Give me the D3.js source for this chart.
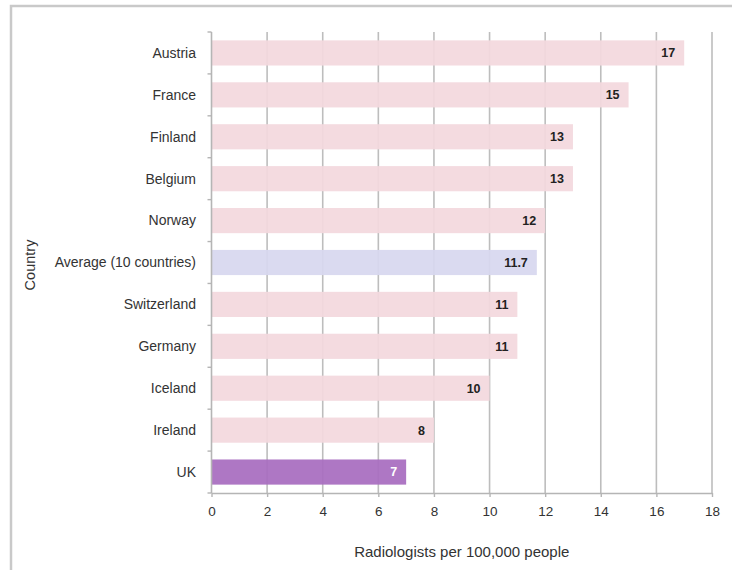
<!DOCTYPE html>
<html>
<head>
<meta charset="utf-8">
<script src="https://cdn.jsdelivr.net/npm/d3@7"></script>
<style>
  body { margin: 0; background: #fff; }
  text { font-family: "Liberation Sans", Arial, sans-serif; }
</style>
</head>
<body>
<div class="chart"></div>
<script>
const countries = ['Austria', 'France', 'Finland', 'Belgium', 'Norway', 'Average (10 countries)',
  'Switzerland', 'Germany', 'Iceland', 'Ireland', 'UK'];
const values = [17, 15, 13, 13, 12, 11.7, 11, 11, 10, 8, 7];
const xTicks = [0, 2, 4, 6, 8, 10, 12, 14, 16, 18];

const data = countries.map((c, i) => ({country: c, value: values[i]}));

const width = 732;
const height = 570;
const margin = {left: 211.5, right: 20, top: 32, bottom: 77};

const svg = d3.select('.chart').append('svg')
  .attr('width', width)
  .attr('height', height);

// outer frame
svg.append('rect')
  .attr('x', 11).attr('y', 6)
  .attr('width', 740).attr('height', 600)
  .attr('fill', 'none')
  .attr('stroke', '#c9c9c9')
  .attr('stroke-width', 2.5);

const x = d3.scaleLinear()
  .domain([0, 18])
  .range([margin.left, width - margin.right]);

const y = d3.scaleBand()
  .domain(countries)
  .range([margin.top, height - margin.bottom])
  .paddingInner(0.4)
  .paddingOuter(0.2);

// vertical grid lines
svg.selectAll('.grid')
  .data(xTicks.slice(1))
  .enter()
  .append('line')
  .attr('class', 'grid')
  .attr('x1', d => x(d)).attr('x2', d => x(d))
  .attr('y1', margin.top).attr('y2', height - margin.bottom)
  .attr('stroke', '#bdbdbd')
  .attr('stroke-width', 1.6);

const fillFor = d => d.country === 'UK' ? '#a86dc0'
  : d.country.startsWith('Average') ? '#d7d7ef' : '#f3d8de';

svg.selectAll('.bar')
  .data(data)
  .enter()
  .append('rect')
  .attr('class', 'bar')
  .attr('x', x(0))
  .attr('y', d => y(d.country))
  .attr('width', d => x(d.value) - x(0))
  .attr('height', y.bandwidth())
  .attr('fill', fillFor)
  .attr('fill-opacity', 0.93);

// x axis
const xAxis = svg.append('g')
  .attr('transform', `translate(0,${height - margin.bottom})`)
  .call(d3.axisBottom(x).tickValues(xTicks).tickSize(4).tickSizeOuter(0).tickPadding(9));
xAxis.select('.domain').attr('stroke', '#b5b5b5').attr('stroke-width', 1.6);
xAxis.selectAll('.tick line').attr('stroke', '#b5b5b5').attr('stroke-width', 1.4);
xAxis.selectAll('.tick text')
  .attr('font-size', 13.5)
  .attr('fill', '#333')
  .attr('font-family', '"Liberation Sans", Arial, sans-serif');

// y axis: ticks at band boundaries
const step = y.step();
const boundaries = countries.map(c => y(c) - step * y.paddingInner() / 2).slice(1);
svg.append('line')
  .attr('x1', x(0)).attr('x2', x(0))
  .attr('y1', margin.top).attr('y2', height - margin.bottom)
  .attr('stroke', '#b5b5b5')
  .attr('stroke-width', 1.6);
svg.selectAll('.ytick')
  .data([margin.top, ...boundaries, height - margin.bottom])
  .enter()
  .append('line')
  .attr('class', 'ytick')
  .attr('x1', x(0) - 4).attr('x2', x(0))
  .attr('y1', d => d).attr('y2', d => d)
  .attr('stroke', '#b5b5b5')
  .attr('stroke-width', 1.4);

svg.selectAll('.category-label')
  .data(data)
  .enter()
  .append('text')
  .attr('class', 'category-label')
  .attr('x', 196)
  .attr('y', d => y(d.country) + y.bandwidth() / 2)
  .attr('dy', '0.35em')
  .attr('text-anchor', 'end')
  .attr('font-size', 14)
  .attr('fill', '#333')
  .text(d => d.country);

svg.selectAll('.value-label')
  .data(data)
  .enter()
  .append('text')
  .attr('class', 'value-label')
  .attr('x', d => x(d.value) - 9)
  .attr('y', d => y(d.country) + y.bandwidth() / 2)
  .attr('dy', '0.35em')
  .attr('text-anchor', 'end')
  .attr('font-size', 12.5)
  .attr('font-weight', 'bold')
  .attr('fill', d => d.country === 'UK' ? '#fff' : '#222')
  .text(d => d.value);

svg.append('text')
  .attr('x', (x(0) + x(18)) / 2)
  .attr('y', 557)
  .attr('text-anchor', 'middle')
  .attr('font-size', 15)
  .attr('fill', '#333')
  .text('Radiologists per 100,000 people');

svg.append('text')
  .attr('transform', 'translate(35,265) rotate(-90)')
  .attr('text-anchor', 'middle')
  .attr('font-size', 14.5)
  .attr('fill', '#333')
  .text('Country');
</script>
</body>
</html>
